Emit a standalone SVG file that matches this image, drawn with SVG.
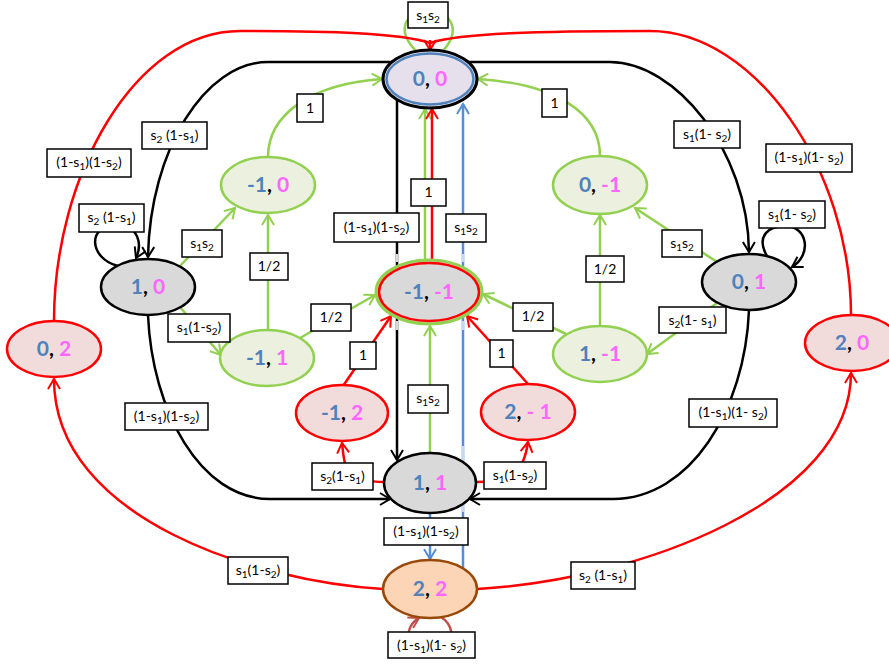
<svg xmlns="http://www.w3.org/2000/svg" width="889" height="664" viewBox="0 0 889 664">
<style>
.c path{fill:none;stroke-width:2.5}
.k{stroke:#000}
.g{stroke:#92d050}
.r{stroke:#ff0000}
.u{stroke:#558ed5}
.lu{stroke:#c6d9f1}
.lk{stroke:#d9d9d9}
.w{stroke:#c0504d}
.lb rect{fill:#fff;stroke:#000;stroke-width:1.5}
.lb text{font-family:Lato,"Liberation Sans",sans-serif;font-size:14px;text-anchor:middle;fill:#000}
.sb{font-size:10px;baseline-shift:-3px}
.nt{font-family:Lato,"Liberation Sans",sans-serif;font-weight:bold;font-size:21px;text-anchor:middle;fill:#000}
.b{fill:#4f81bd}
.m{fill:#ff66ff}
.gr{fill:#d9d9d9;stroke:#000;stroke-width:2.5}
.gn{fill:#ebf1de;stroke:#92d050;stroke-width:2.5}
.rd{fill:#f2dcdb;stroke:#ff0000;stroke-width:2.5}
</style>
<defs>
<marker id="aK" viewBox="0 0 14 14" refX="12" refY="7" markerWidth="14" markerHeight="14" markerUnits="userSpaceOnUse" orient="auto"><path d="M2,1 L12,7 L2,13" fill="none" stroke="#000" stroke-width="2"/></marker>
<marker id="aG" viewBox="0 0 14 14" refX="12" refY="7" markerWidth="14" markerHeight="14" markerUnits="userSpaceOnUse" orient="auto"><path d="M2,1 L12,7 L2,13" fill="none" stroke="#92d050" stroke-width="2"/></marker>
<marker id="aR" viewBox="0 0 14 14" refX="12" refY="7" markerWidth="14" markerHeight="14" markerUnits="userSpaceOnUse" orient="auto"><path d="M2,1 L12,7 L2,13" fill="none" stroke="#ff0000" stroke-width="2"/></marker>
<marker id="aU" viewBox="0 0 14 14" refX="12" refY="7" markerWidth="14" markerHeight="14" markerUnits="userSpaceOnUse" orient="auto"><path d="M2,1 L12,7 L2,13" fill="none" stroke="#558ed5" stroke-width="2"/></marker>
<marker id="aW" viewBox="0 0 14 14" refX="12" refY="7" markerWidth="14" markerHeight="14" markerUnits="userSpaceOnUse" orient="auto"><path d="M2,1 L12,7 L2,13" fill="none" stroke="#c0504d" stroke-width="2"/></marker>
</defs>
<rect width="889" height="664" fill="#fff"/>
<g id="connectors" class="c">
<!-- black -->
<path class="k" d="M430 62 L268 62 C205 62 150 150 148 257" marker-end="url(#aK)"/>
<path class="k" d="M430 62 L610 62 C675 62 748 150 749 252" marker-end="url(#aK)"/>
<path class="k" d="M118 266 C88 258 88 225 115 225 C140 225 142 245 136 258" marker-end="url(#aK)"/>
<path class="k" d="M767 256 C755 235 770 226 785 226 C808 226 812 255 792 267" marker-end="url(#aK)"/>
<path class="k" d="M397 90 L397 460" marker-end="url(#aK)"/>
<path class="lk" d="M397 254 L397 262 M397 321 L397 330"/>
<path class="k" d="M148 315 C152 410 200 499 270 499 L390 499" marker-end="url(#aK)"/>
<path class="k" d="M749 310 C745 410 690 499 613 499 L470 499" marker-end="url(#aK)"/>
<!-- green -->
<path class="g" d="M417 52 C395 30 405 12 428 12 C452 12 462 30 442 52"/>
<path class="g" d="M268 157 C268 115 310 84 382 79" marker-end="url(#aG)"/>
<path class="g" d="M600 156 C600 112 555 84 478 79" marker-end="url(#aG)"/>
<path class="g" d="M180 266 L235 208" marker-end="url(#aG)"/>
<path class="g" d="M180 307 L221 355" marker-end="url(#aG)"/>
<path class="g" d="M268 330 L268 215" marker-end="url(#aG)"/>
<path class="g" d="M300 338 L375 295" marker-end="url(#aG)"/>
<path class="g" d="M566 334 L483 294" marker-end="url(#aG)"/>
<path class="g" d="M600 326 L600 215" marker-end="url(#aG)"/>
<path class="g" d="M717 262 L635 208" marker-end="url(#aG)"/>
<path class="g" d="M717 303 L647 354" marker-end="url(#aG)"/>
<path class="g" d="M430 453 L430 326" marker-end="url(#aG)"/>
<path class="g" d="M425 262 L425 109" marker-end="url(#aG)"/>
<!-- red -->
<path class="r" d="M432 262 L432 109" marker-end="url(#aR)"/>
<path class="r" d="M54 321 C54 175 135 31 240 31 C330 31 400 33 430 43"/>
<path class="r" d="M851 315 C851 170 755 31 650 31 C540 31 460 33 430 43"/>
<path class="r" d="M430 40 L430 50" marker-end="url(#aR)"/>
<path class="r" d="M383 589 C260 582 54 520 54 379" marker-end="url(#aR)"/>
<path class="r" d="M477 589 C640 580 851 500 851 373" marker-end="url(#aR)"/>
<path class="r" d="M385 482 C345 482 345 470 342 443" marker-end="url(#aR)"/>
<path class="r" d="M475 482 C515 482 524 470 528 442" marker-end="url(#aR)"/>
<path class="r" d="M343 386 L391 316" marker-end="url(#aR)"/>
<path class="r" d="M528 384 L467 316" marker-end="url(#aR)"/>
<!-- blue -->
<path class="u" d="M430 513 L430 559" marker-end="url(#aU)"/>
<path class="u" d="M463 568 L463 104" marker-end="url(#aU)"/>
<path class="lu" d="M463 254 L463 262 M463 321 L463 330 M463 446 L463 512"/>
<!-- brown loop -->
<path class="w" d="M441 617 C452 624 456 640 445 645 L415 645 C404 640 408 624 419 618" marker-end="url(#aW)"/>
</g>
<g id="n00"><ellipse cx="430" cy="79" rx="47" ry="29" fill="#e6e0ec" stroke="#000" stroke-width="3"/><ellipse cx="430" cy="79" rx="43.5" ry="25.5" fill="none" stroke="#4f81bd" stroke-width="2.5"/><text class="nt" x="430" y="86"><tspan class="b">0</tspan>, <tspan class="m">0</tspan></text></g>
<g id="nm1m1"><ellipse cx="429" cy="292" rx="53" ry="32" fill="#d9d9d9" stroke="#92d050" stroke-width="3"/><ellipse cx="429" cy="292" rx="50" ry="29" fill="none" stroke="#ff0000" stroke-width="2.5"/><text class="nt" x="429" y="299"><tspan class="b">-1</tspan>, <tspan class="m">-1</tspan></text></g>
<g id="n11"><ellipse class="gr" cx="430" cy="483" rx="46" ry="30"/><text class="nt" x="430" y="490"><tspan class="b">1</tspan>, <tspan class="m">1</tspan></text></g>
<g id="n22"><ellipse cx="430" cy="589" rx="47" ry="29" fill="#fbd5b5" stroke="#984807" stroke-width="2.5"/><text class="nt" x="430" y="596"><tspan class="b">2</tspan>, <tspan class="m">2</tspan></text></g>
<g id="n10"><ellipse class="gr" cx="148" cy="287" rx="47" ry="28"/><text class="nt" x="148" y="294"><tspan class="b">1</tspan>, <tspan class="m">0</tspan></text></g>
<g id="n01"><ellipse class="gr" cx="749" cy="282" rx="47" ry="28"/><text class="nt" x="749" y="289"><tspan class="b">0</tspan>, <tspan class="m">1</tspan></text></g>
<g id="nm10"><ellipse class="gn" cx="268" cy="185" rx="47" ry="28"/><text class="nt" x="268" y="192"><tspan class="b">-1</tspan>, <tspan class="m">0</tspan></text></g>
<g id="nm11"><ellipse class="gn" cx="267" cy="358" rx="47" ry="28"/><text class="nt" x="267" y="365"><tspan class="b">-1</tspan>, <tspan class="m">1</tspan></text></g>
<g id="n0m1"><ellipse class="gn" cx="600" cy="185" rx="47" ry="29"/><text class="nt" x="600" y="192"><tspan class="b">0</tspan>, <tspan class="m">-1</tspan></text></g>
<g id="n1m1"><ellipse class="gn" cx="600" cy="354" rx="47" ry="28"/><text class="nt" x="600" y="361"><tspan class="b">1</tspan>, <tspan class="m">-1</tspan></text></g>
<g id="n02"><ellipse class="rd" cx="54" cy="349" rx="47" ry="28"/><text class="nt" x="54" y="356"><tspan class="b">0</tspan>, <tspan class="m">2</tspan></text></g>
<g id="nm12"><ellipse class="rd" cx="342" cy="413" rx="46" ry="28"/><text class="nt" x="342" y="420"><tspan class="b">-1</tspan>, <tspan class="m">2</tspan></text></g>
<g id="n2m1"><ellipse class="rd" cx="528" cy="412" rx="47" ry="28"/><text class="nt" x="528" y="419"><tspan class="b">2</tspan>, <tspan class="m">- 1</tspan></text></g>
<g id="n20"><ellipse class="rd" cx="852" cy="343" rx="47" ry="28"/><text class="nt" x="852" y="350"><tspan class="b">2</tspan>, <tspan class="m">0</tspan></text></g>
<g id="labels" class="lb">
<rect x="408" y="2" width="40" height="26"/><text x="428" y="20">s<tspan class="sb">1</tspan>s<tspan class="sb">2</tspan></text>
<rect x="142" y="122" width="65" height="27"/><text x="174.5" y="140">s<tspan class="sb">2</tspan> (1-s<tspan class="sb">1</tspan>)</text>
<rect x="47" y="149" width="84" height="28"/><text x="89" y="167">(1-s<tspan class="sb">1</tspan>)(1-s<tspan class="sb">2</tspan>)</text>
<rect x="297" y="94" width="26" height="28"/><text x="310" y="113">1</text>
<rect x="542" y="89" width="25" height="28"/><text x="554.5" y="108">1</text>
<rect x="674" y="121" width="66" height="27"/><text x="707" y="139">s<tspan class="sb">1</tspan>(1- s<tspan class="sb">2</tspan>)</text>
<rect x="766" y="144" width="86" height="28"/><text x="809" y="162">(1-s<tspan class="sb">1</tspan>)(1- s<tspan class="sb">2</tspan>)</text>
<rect x="79" y="204" width="65" height="28"/><text x="111.5" y="222">s<tspan class="sb">2</tspan> (1-s<tspan class="sb">1</tspan>)</text>
<rect x="182" y="230" width="40" height="27"/><text x="202" y="248">s<tspan class="sb">1</tspan>s<tspan class="sb">2</tspan></text>
<rect x="250" y="253" width="38" height="27"/><text x="269" y="271">1/2</text>
<rect x="168" y="314" width="62" height="28"/><text x="199" y="332">s<tspan class="sb">1</tspan>(1-s<tspan class="sb">2</tspan>)</text>
<rect x="311" y="304" width="40" height="27"/><text x="331" y="322">1/2</text>
<rect x="411" y="179" width="35" height="27"/><text x="428.5" y="197">1</text>
<rect x="334" y="213" width="85" height="29"/><text x="376.5" y="232">(1-s<tspan class="sb">1</tspan>)(1-s<tspan class="sb">2</tspan>)</text>
<rect x="446" y="214" width="40" height="28"/><text x="466" y="232">s<tspan class="sb">1</tspan>s<tspan class="sb">2</tspan></text>
<rect x="513" y="303" width="40" height="28"/><text x="533" y="321">1/2</text>
<rect x="586" y="256" width="38" height="26"/><text x="605" y="274">1/2</text>
<rect x="662" y="230" width="40" height="27"/><text x="682" y="248">s<tspan class="sb">1</tspan>s<tspan class="sb">2</tspan></text>
<rect x="659" y="307" width="67" height="26"/><text x="692.5" y="325">s<tspan class="sb">2</tspan>(1- s<tspan class="sb">1</tspan>)</text>
<rect x="759" y="201" width="66" height="27"/><text x="792" y="219">s<tspan class="sb">1</tspan>(1- s<tspan class="sb">2</tspan>)</text>
<rect x="350" y="342" width="26" height="27"/><text x="363" y="360">1</text>
<rect x="490" y="340" width="23" height="27"/><text x="501.5" y="358">1</text>
<rect x="408" y="385" width="40" height="28"/><text x="428" y="403">s<tspan class="sb">1</tspan>s<tspan class="sb">2</tspan></text>
<rect x="312" y="463" width="61" height="27"/><text x="342.5" y="481">s<tspan class="sb">2</tspan>(1-s<tspan class="sb">1</tspan>)</text>
<rect x="484" y="462" width="62" height="27"/><text x="515" y="480">s<tspan class="sb">1</tspan>(1-s<tspan class="sb">2</tspan>)</text>
<rect x="125" y="403" width="83" height="27"/><text x="166.5" y="421">(1-s<tspan class="sb">1</tspan>)(1-s<tspan class="sb">2</tspan>)</text>
<rect x="689" y="399" width="88" height="28"/><text x="733" y="417">(1-s<tspan class="sb">1</tspan>)(1- s<tspan class="sb">2</tspan>)</text>
<rect x="384" y="518" width="84" height="27"/><text x="426" y="536">(1-s<tspan class="sb">1</tspan>)(1-s<tspan class="sb">2</tspan>)</text>
<rect x="228" y="557" width="60" height="27"/><text x="258" y="575">s<tspan class="sb">1</tspan>(1-s<tspan class="sb">2</tspan>)</text>
<rect x="571" y="562" width="64" height="27"/><text x="603" y="580">s<tspan class="sb">2</tspan> (1-s<tspan class="sb">1</tspan>)</text>
<rect x="388" y="632" width="87" height="26"/><text x="431.5" y="650">(1-s<tspan class="sb">1</tspan>)(1- s<tspan class="sb">2</tspan>)</text>
</g>
</svg>
